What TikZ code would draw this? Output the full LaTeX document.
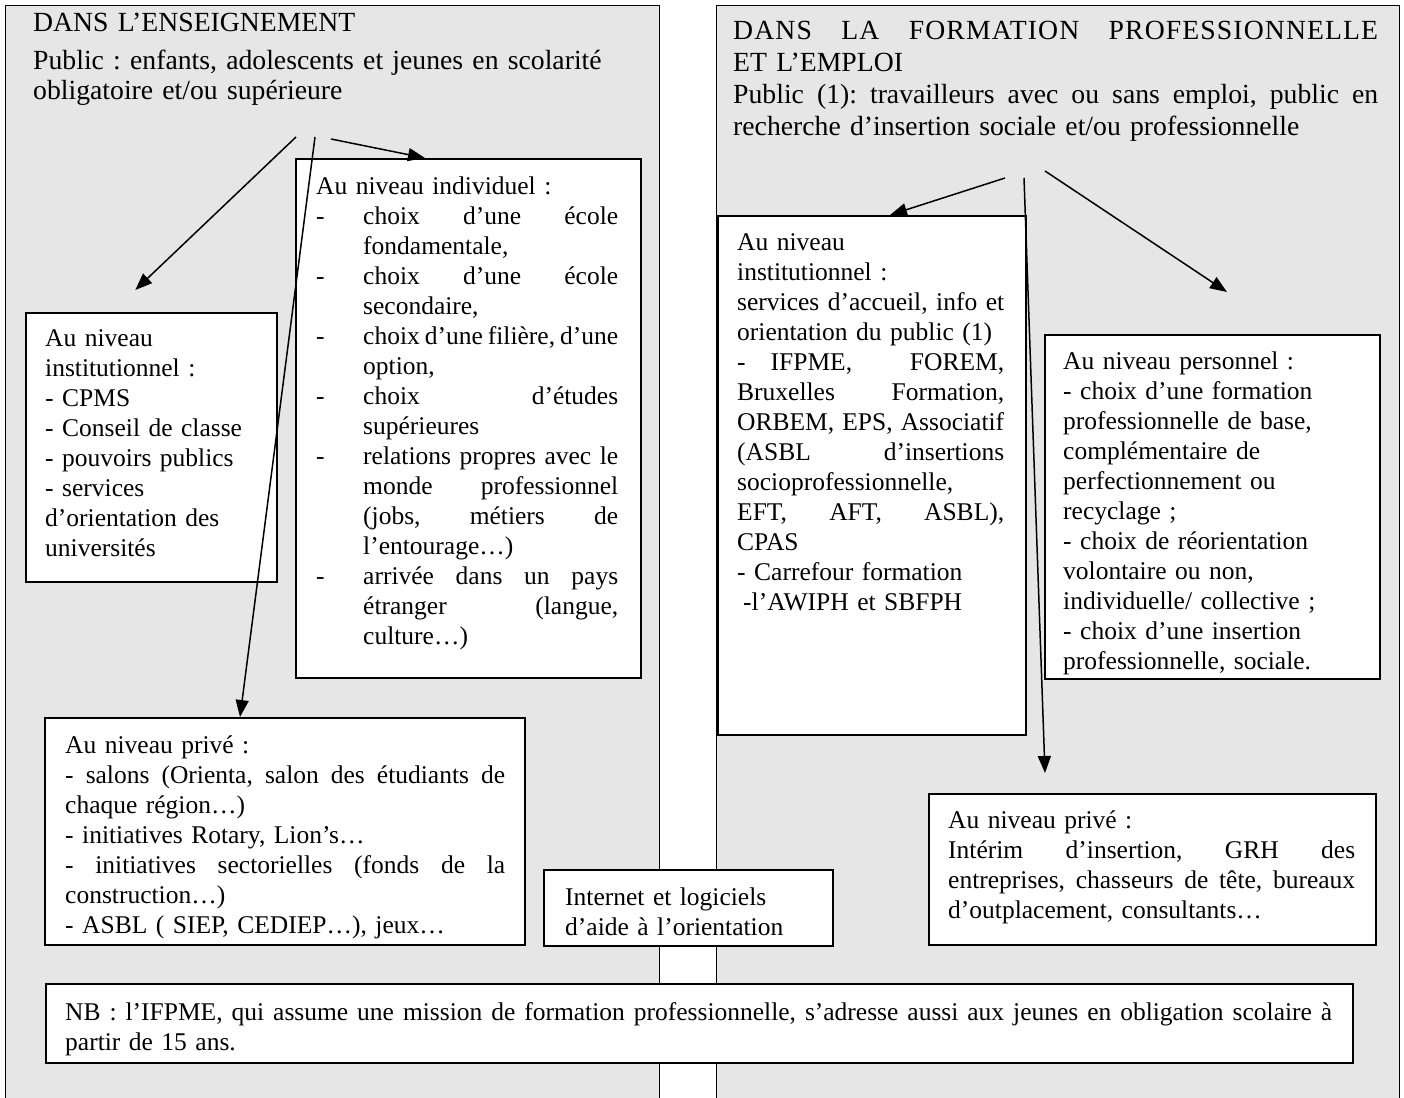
\documentclass[tikz,border=0pt]{standalone}
\usepackage{fontspec}
\setmainfont{Liberation Serif}
\usetikzlibrary{arrows.meta,calc}
\definecolor{panelgray}{HTML}{E6E6E6}
\setlength{\parindent}{0pt}
\frenchspacing
\newcommand\jline[1]{{\spaceskip=0pt\xspaceskip=0pt\makebox[\hsize][s]{#1}}}
\newcommand\dashj[1]{\makebox[47pt][l]{-}{\spaceskip=0pt\xspaceskip=0pt\makebox[\dimexpr\hsize-47pt\relax][s]{#1}}}
\newcommand\indj[1]{\hspace*{47pt}{\spaceskip=0pt\xspaceskip=0pt\makebox[\dimexpr\hsize-47pt\relax][s]{#1}}}
\newcommand\indl[1]{\hspace*{47pt}#1}

\begin{document}
\begin{tikzpicture}[x=1pt, y=-1pt,
  panel/.style={draw, line width=1.3pt, fill=panelgray, anchor=north west, inner sep=0},
  box/.style={draw, line width=1.6pt, fill=white, anchor=north west, inner sep=0},
  txt/.style={anchor=base west, inner sep=0, align=left, font=\fontsize{25.5}{30}\selectfont},
  head/.style={txt, font=\fontsize{27.7}{32}\selectfont},
  arr/.style={line width=1.5pt, -{Triangle[length=17pt, width=13pt]}}]
  \useasboundingbox (0,0) rectangle (1404,1097);

  \node[panel, minimum width=654, minimum height=1100] (ens) at (5,5) {};
  \node[panel, minimum width=683, minimum height=1100] (form) at (716,5) {};

  \node[box, minimum width=251, minimum height=269] (instens) at (25,312) {};
  \node[box, minimum width=345, minimum height=519] (indiv) at (295,158) {};
  \node[box, minimum width=480, minimum height=227] (privens) at (44,717) {};
  \node[box, minimum width=289, minimum height=76] (internet) at (543,869) {};
  \node[box, minimum width=1307, minimum height=79] (nb) at (45,983) {};
  \node[box, minimum width=308, minimum height=519] (instform) at (717,215) {};
  \node[box, minimum width=335, minimum height=344] (perso) at (1044,334) {};
  \node[box, minimum width=447, minimum height=151] (privform) at (928,793) {};

  \node[head, text width=620, font=\fontsize{27.7}{30}\selectfont] (enstitle) at (33,32)
    {DANS L’ENSEIGNEMENT\\[8pt]
     Public : enfants, adolescents et jeunes en scolarité\\
     obligatoire et/ou supérieure};
  \node[head, text width=645] (formtitle) at (733,40)
    {{\addfontfeatures{LetterSpace=4}\jline{DANS LA FORMATION PROFESSIONNELLE}}\\
     ET L’EMPLOI\\
     \jline{Public (1): travailleurs avec ou sans emploi, public en}\\
     recherche d’insertion sociale et/ou professionnelle};

  \node[txt, text width=220] (instenstxt) at ($(instens.north west)+(20,34)$)
    {Au niveau\\ institutionnel :\\ - CPMS\\ - Conseil de classe\\
     - pouvoirs publics\\ - services\\ d’orientation des\\ universités};
  \node[txt, text width=302] (indivtxt) at ($(indiv.north west)+(21,36)$)
    {Au niveau individuel :\\
     \dashj{choix d’une école}\\ \indl{fondamentale,}\\
     \dashj{choix d’une école}\\ \indl{secondaire,}\\
     \dashj{choix d’une filière, d’une}\\ \indl{option,}\\
     \dashj{choix d’études}\\ \indl{supérieures}\\
     \dashj{relations propres avec le}\\ \indj{monde professionnel}\\
     \indj{(jobs, métiers de}\\ \indl{l’entourage…)}\\
     \dashj{arrivée dans un pays}\\ \indj{étranger (langue,}\\ \indl{culture…)}};
  \node[txt, text width=440] (privenstxt) at ($(privens.north west)+(21,36)$)
    {Au niveau privé :\\
     \jline{- salons (Orienta, salon des étudiants de}\\
     chaque région…)\\
     - initiatives Rotary, Lion’s…\\
     \jline{- initiatives sectorielles (fonds de la}\\
     construction…)\\
     - ASBL ( SIEP, CEDIEP…), jeux…};
  \node[txt, text width=260] (internettxt) at ($(internet.north west)+(22,36)$)
    {Internet et logiciels\\ d’aide à l’orientation};
  \node[txt, text width=1267] (nbtxt) at ($(nb.north west)+(20,37)$)
    {\jline{NB : l’IFPME, qui assume une mission de formation professionnelle, s’adresse aussi aux jeunes en obligation scolaire à}\\
     partir de 15 ans.};
  \node[txt, text width=267] (instformtxt) at ($(instform.north west)+(20,35)$)
    {Au niveau\\ institutionnel :\\
     \jline{services d’accueil, info et}\\
     orientation du public (1)\\
     \jline{-\hspace{25pt}IFPME, FOREM,}\\
     \jline{Bruxelles Formation,}\\
     \jline{ORBEM, EPS, Associatif}\\
     \jline{(ASBL d’insertions}\\
     socioprofessionnelle,\\
     \jline{EFT, AFT, ASBL),}\\
     CPAS\\
     - Carrefour formation\\
     \hspace*{6pt}-l’AWIPH et SBFPH};
  \begin{scope}
    \clip (perso.south west) rectangle (perso.north east);
    \node[txt, text width=300] (persotxt) at ($(perso.north west)+(19,35)$)
      {Au niveau personnel :\\ - choix d’une formation\\ professionnelle de base,\\
       complémentaire de\\ perfectionnement ou\\ recyclage ;\\
       - choix de réorientation\\ volontaire ou non,\\ individuelle/ collective ;\\
       - choix d’une insertion\\ professionnelle, sociale.};
  \end{scope}
  \node[txt, text width=407] (privformtxt) at ($(privform.north west)+(20,35)$)
    {Au niveau privé :\\
     \jline{Intérim d’insertion, GRH des}\\
     \jline{entreprises, chasseurs de tête, bureaux}\\
     d’outplacement, consultants…};

  \coordinate (ensA) at (296,137);
  \coordinate (ensB) at (315,137);
  \coordinate (ensC) at (331,139);
  \draw[arr] (ensA) -- ($(instens.north)+(-16,-22)$);
  \draw[arr] (ensB) -- ($(privens.north west)+(196,0)$);
  \draw[arr] (ensC) -- ($(indiv.north west)+(130,0)$);

  \coordinate (formA) at (1005,178);
  \coordinate (formB) at (1024,178);
  \coordinate (formC) at (1045,171);
  \draw[arr] (formA) -- ($(instform.north west)+(173,0)$);
  \draw[arr] (formB) -- ($(privform.north west)+(117,-20)$);
  \draw[arr] (formC) -- ($(perso.north west)+(183,-42)$);
\end{tikzpicture}
\end{document}
